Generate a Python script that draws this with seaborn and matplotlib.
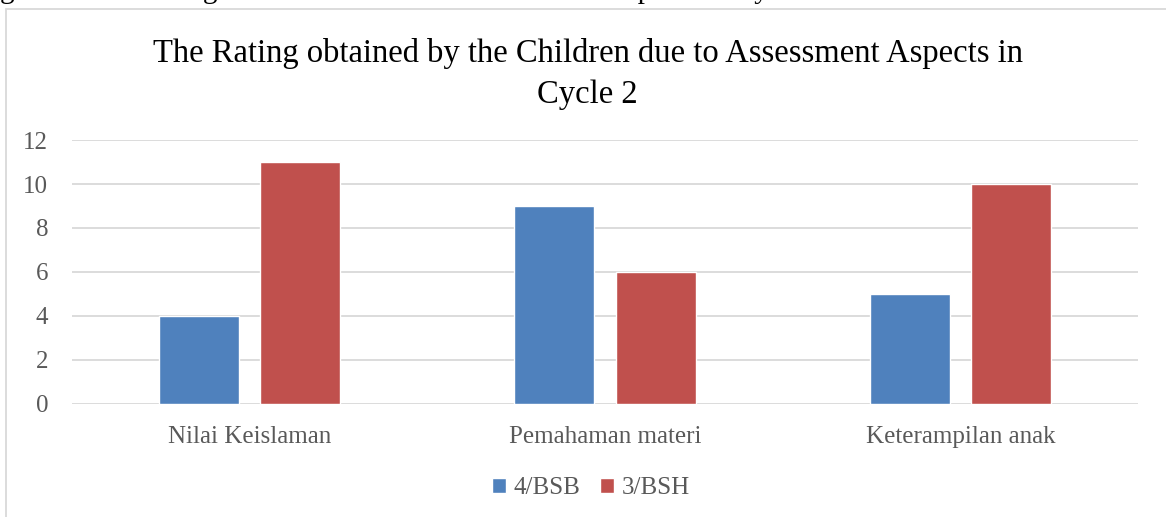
import pandas as pd
import matplotlib.pyplot as plt
import seaborn as sns
from matplotlib.patches import Rectangle

# --- Data ---
categories = ['Nilai Keislaman', 'Pemahaman materi', 'Keterampilan anak']
series_names = ['4/BSB', '3/BSH']
bsb_values = [4, 9, 5]
bsh_values = [11, 6, 10]
y_ticks = [0, 2, 4, 6, 8, 10, 12]

colors = ['#4F81BD', '#C0504D']
text_gray = '#595959'

df = pd.DataFrame({
    'aspect': categories * 2,
    'series': [series_names[0]] * 3 + [series_names[1]] * 3,
    'value': bsb_values + bsh_values,
})

sns.set_theme(style='white')
plt.rcParams['font.family'] = ['Liberation Serif', 'DejaVu Serif']

fig = plt.figure(figsize=(11.66, 5.17), dpi=100)
ax = fig.add_axes([0.0617, 0.2186, 0.9143, 0.5106])

sns.barplot(data=df, x='aspect', y='value', hue='series', order=categories,
            hue_order=series_names, palette=colors, width=0.57, gap=0.21,
            saturation=1, ax=ax, legend=True)

ax.set_ylim(0, 12)
ax.set_yticks(y_ticks)
ax.set_xlim(-0.5, 2.5)
ax.yaxis.grid(True, color='#D9D9D9', linewidth=1.3)
ax.set_axisbelow(True)
for s in ax.spines.values():
    s.set_visible(False)
ax.set_xlabel('')
ax.set_ylabel('')
ax.tick_params(axis='both', length=0, labelsize=18, labelcolor=text_gray)
ax.tick_params(axis='y', pad=17)
ax.tick_params(axis='x', pad=16)

leg = ax.legend(loc='center', bbox_to_anchor=(0.487, -0.318), ncol=2,
                frameon=False, fontsize=18, handlelength=0.55, handleheight=0.55,
                handletextpad=0.3, columnspacing=0.8)
for t in leg.get_texts():
    t.set_color(text_gray)

fig.text(0.504, 0.857, 'The Rating obtained by the Children due to Assessment Aspects in\nCycle 2',
         ha='center', va='center', fontsize=23.5, color='black', linespacing=1.45)

# caption of the page, cut by the top edge
fig.text(0.0, 1 + 2 / 517, 'gure 6. The Rating was obtained due to Assessment Aspects in Cycle 2',
         ha='left', va='baseline', fontsize=21, color='black')

# chart frame
fig.patches.append(Rectangle((6 / 1166, -0.05), 1.2, 1 - 9 / 517 + 0.05,
                             transform=fig.transFigure, fill=False,
                             edgecolor='#D9D9D9', linewidth=1.3))

plt.savefig('out.png', dpi=100)
